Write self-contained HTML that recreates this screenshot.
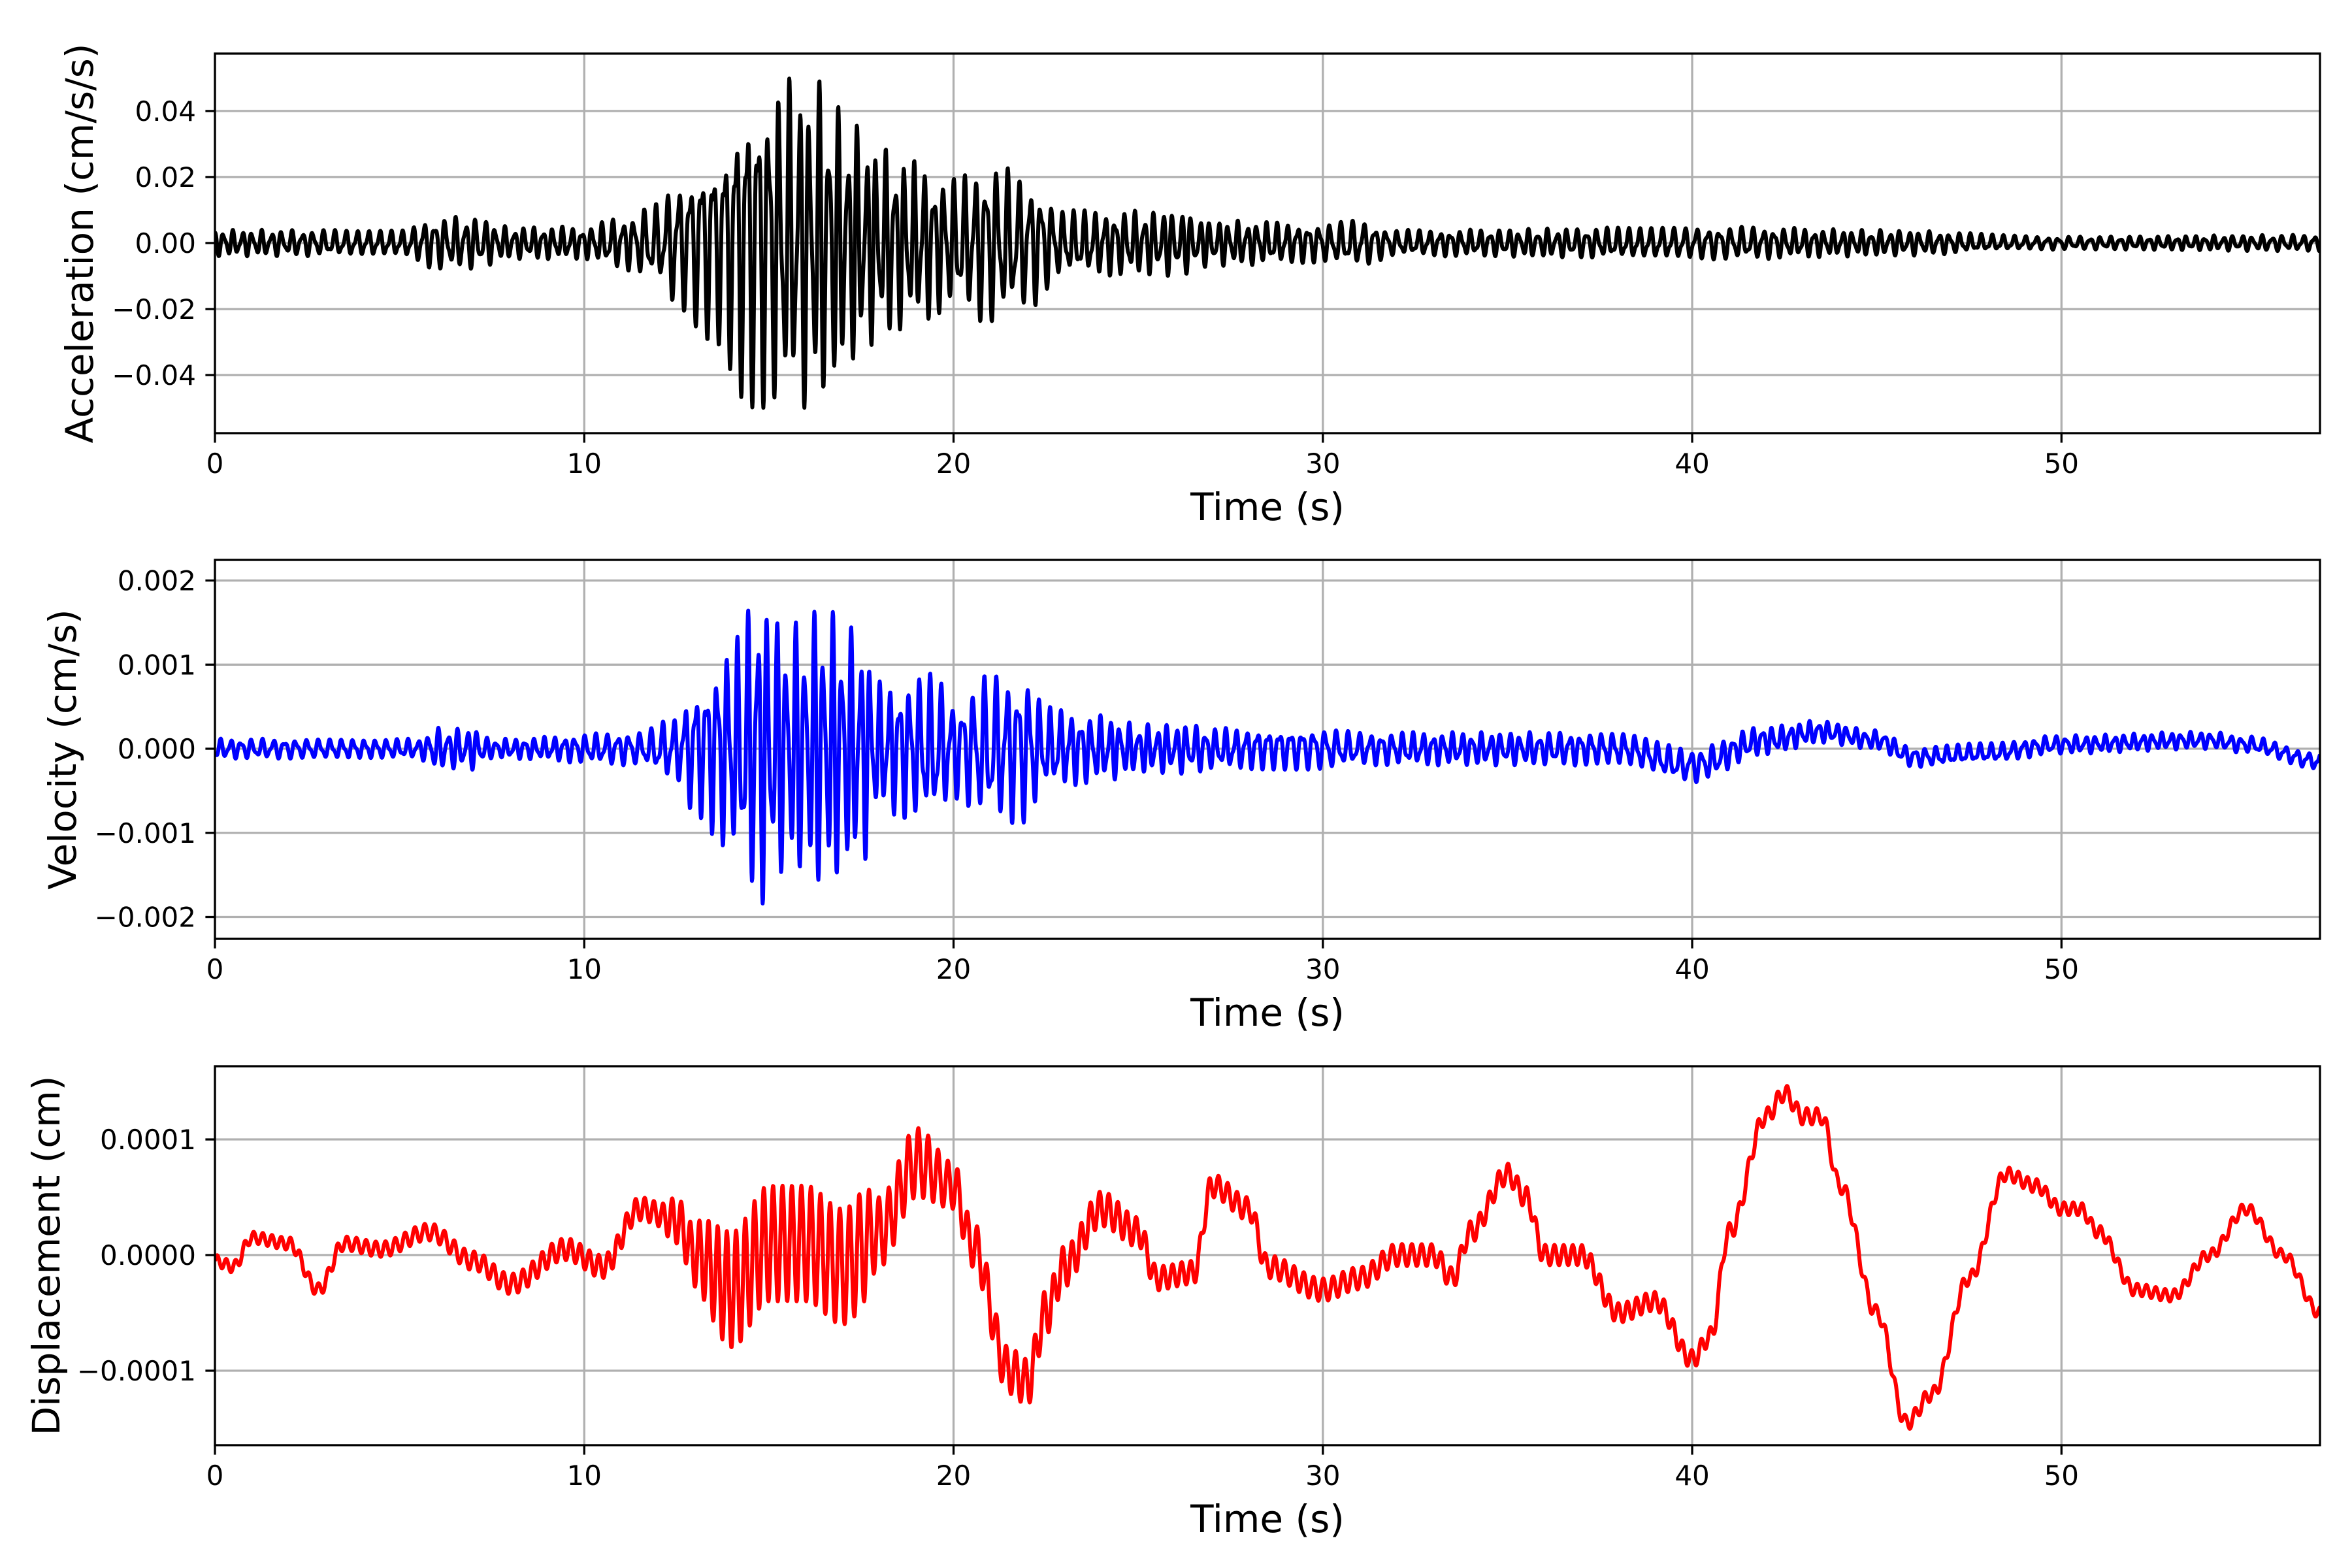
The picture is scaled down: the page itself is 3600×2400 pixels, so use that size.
<!DOCTYPE html>
<html><head><meta charset="utf-8"><style>
body{margin:0;background:#fff}
svg{display:block}
text{font-family:"DejaVu Sans","Liberation Sans",sans-serif;fill:#000}
</style></head><body>
<svg id="s" width="3600" height="2400" viewBox="0 0 3600 2400" xmlns="http://www.w3.org/2000/svg"></svg>
<script>
const S=document.getElementById('s');
const X0=329,X1=3551,TMAX=57.0;
const xs=t=>X0+(t/TMAX)*(X1-X0);
function interp(k,t){
  if(t<=k[0][0])return k[0][1];
  for(let i=1;i<k.length;i++){if(t<=k[i][0]){const a=k[i-1],b=k[i];let u=(t-a[0])/(b[0]-a[0]);u=(1-Math.cos(Math.PI*u))/2;return a[1]+(b[1]-a[1])*u;}}
  return k[k.length-1][1];
}
let h='';
const panels=[
 {top:82,bot:663,ymin:-0.0576,ymax:0.0574,ticks:[[0.04,'0.04'],[0.02,'0.02'],[0,'0.00'],[-0.02,'−0.02'],[-0.04,'−0.04']],label:'Acceleration (cm/s/s)',lx:122,color:'#000'},
 {top:857,bot:1437,ymin:-0.00226,ymax:0.002245,ticks:[[0.002,'0.002'],[0.001,'0.001'],[0,'0.000'],[-0.001,'−0.001'],[-0.002,'−0.002']],label:'Velocity (cm/s)',lx:96,color:'#0000ff'},
 {top:1632,bot:2212,ymin:-1.644e-4,ymax:1.633e-4,ticks:[[1e-4,'0.0001'],[0,'0.0000'],[-1e-4,'−0.0001']],label:'Displacement (cm)',lx:71,color:'#ff0000'}
];
const N=5700,dt=0.01;
function wave(t,seed){return 0.72*Math.sin(2*Math.PI*3.6*t+3*Math.sin(0.7*t+seed)+2*Math.sin(0.23*t+seed*2))+0.28*Math.sin(2*Math.PI*6.3*t+1.7*Math.sin(1.3*t+seed));}
const accE=[[0,0.004],[5,0.004],[6,0.008],[7,0.008],[8,0.005],[10,0.005],[11,0.008],[12,0.012],[12.5,0.02],[13.5,0.03],[14.5,0.05],[16.5,0.05],[17,0.04],[18,0.03],[19,0.025],[20,0.02],[21,0.025],[22,0.02],[23,0.01],[26,0.01],[27,0.007],[30,0.006],[31,0.007],[32,0.004],[41,0.005],[45,0.004],[50,0.002],[57,0.0025]];
const velE=[[0,0.00012],[5.5,0.00012],[6,0.00025],[7,0.00025],[7.5,0.00012],[11.5,0.0002],[12.5,0.0004],[13,0.0008],[14,0.0013],[14.7,0.0019],[15.5,0.0015],[16.5,0.0017],[17.5,0.0014],[18,0.0008],[19.5,0.0009],[20,0.0006],[21,0.0009],[22,0.0009],[22.5,0.0005],[24,0.0004],[25,0.0003],[26.5,0.0003],[27,0.00025],[30,0.00025],[31,0.0002],[40,0.0002],[45,0.00012],[57,0.0001]];
const velO=[[0,0],[38,0],[40,-0.0002],[42,0.0001],[43.5,0.0002],[45,0.0001],[46,-0.0001],[48,-0.00005],[50,0.00005],[54,0.0001],[55,0.00005],[57,-0.00015]];
const dK=[[0,-0.05],[0.5,-0.1],[1,0.15],[2,0.1],[2.8,-0.3],[3.5,0.1],[4.5,0.05],[5.8,0.2],[7,-0.05],[8,-0.25],[9.5,0.05],[10.5,-0.1],[11.5,0.4],[12.5,0.3],[13,0],[14,-0.3],[15,0.1],[16,0.1],[17,-0.1],[18,0.2],[19,0.8],[20,0.6],[20.5,0.1],[21.5,-1.0],[22,-1.1],[22.5,-0.5],[23,-0.1],[24,0.4],[25,0.2],[25.5,-0.2],[26.5,-0.15],[27,0.6],[28,0.4],[28.5,-0.1],[30,-0.3],[31,-0.2],[32,0],[33,0],[33.5,-0.2],[34,0.2],[35,0.7],[35.5,0.5],[36,0],[37,0],[38,-0.5],[39,-0.4],[40,-0.9],[40.5,-0.7],[41,0.2],[42,1.2],[42.5,1.4],[43,1.2],[43.5,1.2],[44,0.6],[45,-0.5],[45.8,-1.45],[46.5,-1.2],[47.5,-0.2],[48.5,0.7],[49.3,0.6],[50,0.4],[50.5,0.4],[51,0.2],[52,-0.3],[53,-0.35],[54,0],[55,0.4],[56,0],[57,-0.5]];
const dE=[[0,0.05],[12,0.1],[12.5,0.2],[14,0.5],[17.5,0.5],[18,0.3],[19,0.3],[20,0.2],[22,0.2],[24,0.15],[26,0.1],[57,0.05]];
const fns=[
 t=>interp(accE,t)*wave(t,0.3),
 t=>interp(velE,t)*wave(t,1.1)+interp(velO,t),
 t=>1e-4*(interp(dK,t)+interp(dE,t)*Math.sin(2*Math.PI*3.9*t+2*Math.sin(0.5*t)))
];
panels.forEach((p,i)=>{
  const ys=v=>p.bot-(v-p.ymin)/(p.ymax-p.ymin)*(p.bot-p.top);
  for(let g=0;g<=50;g+=10){const x=xs(g);h+=`<line x1="${x}" y1="${p.top}" x2="${x}" y2="${p.bot}" stroke="#b0b0b0" stroke-width="3.3"/>`;}
  p.ticks.forEach(tk=>{const y=ys(tk[0]);h+=`<line x1="${X0}" y1="${y}" x2="${X1}" y2="${y}" stroke="#b0b0b0" stroke-width="3.3"/>`;
    h+=`<line x1="${X0-14.6}" y1="${y}" x2="${X0}" y2="${y}" stroke="#000" stroke-width="3.3"/>`;
    h+=`<text x="${X0-29}" y="${y+15}" font-size="42" text-anchor="end">${tk[1]}</text>`;});
  let d='';
  for(let k=0;k<=N;k++){const t=k*dt;d+=(k?'L':'M')+xs(t).toFixed(1)+' '+ys(fns[i](t)).toFixed(1);}
  h+=`<clipPath id="c${i}"><rect x="${X0}" y="${p.top}" width="${X1-X0}" height="${p.bot-p.top}"/></clipPath>`;
  h+=`<path d="${d}" fill="none" stroke="${p.color}" stroke-width="6" stroke-linejoin="round" clip-path="url(#c${i})"/>`;
  for(let g=0;g<=50;g+=10){const x=xs(g);h+=`<line x1="${x}" y1="${p.bot}" x2="${x}" y2="${p.bot+14.6}" stroke="#000" stroke-width="3.3"/>`;
    h+=`<text x="${x}" y="${p.bot+61}" font-size="42" text-anchor="middle">${g}</text>`;}
  h+=`<rect x="${X0}" y="${p.top}" width="${X1-X0}" height="${p.bot-p.top}" fill="none" stroke="#000" stroke-width="3.3"/>`;
  h+=`<text x="${(X0+X1)/2}" y="${p.bot+133}" font-size="58" text-anchor="middle">Time (s)</text>`;
  const cy=(p.top+p.bot)/2;
  h+=`<text x="${p.lx}" y="${cy}" font-size="58" text-anchor="middle" dominant-baseline="central" transform="rotate(-90 ${p.lx} ${cy})">${p.label}</text>`;
});
S.innerHTML=h;
</script>
</body></html>
